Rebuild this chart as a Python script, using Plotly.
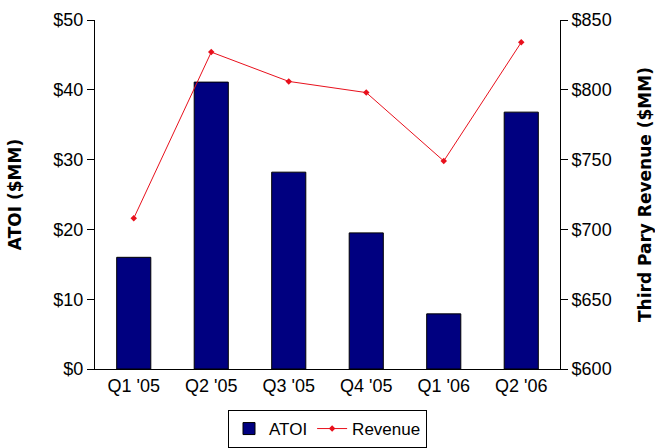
import plotly.graph_objects as go

quarters = ["Q1 '05", "Q2 '05", "Q3 '05", "Q4 '05", "Q1 '06", "Q2 '06"]
atoi = [16.0, 41.1, 28.2, 19.5, 7.9, 36.8]
revenue = [708, 827, 806, 798, 749, 834]

font = "Liberation Sans, Arial, sans-serif"
title_font = "DejaVu Sans, sans-serif"

fig = go.Figure()
fig.add_trace(go.Bar(
    x=quarters, y=atoi, name="ATOI",
    marker=dict(color="#000080", line=dict(color="#000000", width=1)),
    yaxis="y"
))
fig.add_trace(go.Scatter(
    x=quarters, y=revenue, name="Revenue", mode="lines+markers",
    line=dict(color="#e8101c", width=1),
    marker=dict(color="#e8101c", size=5, symbol="diamond"),
    yaxis="y2"
))

fig.update_layout(
    width=655, height=448,
    margin=dict(l=95, r=95, t=20, b=79, autoexpand=False),
    plot_bgcolor="white", paper_bgcolor="white",
    font=dict(family=font, size=18, color="#000000"),
    bargap=0.56,
    showlegend=True,
    legend=dict(
        orientation="h", x=0.5, xanchor="center",
        yref="container", y=0.0, yanchor="bottom",
        bordercolor="#000000", borderwidth=1, font=dict(size=17),
        itemwidth=30, tracegroupgap=0
    ),
    xaxis=dict(
        showline=True, linecolor="#000000", linewidth=1,
        ticks="", showgrid=False,
    ),
    yaxis=dict(
        range=[0, 50], tickvals=[0, 10, 20, 30, 40, 50],
        ticktext=["$0", "$10", "$20", "$30", "$40", "$50"],
        showline=True, linecolor="#000000", linewidth=1,
        ticks="outside", ticklen=7, tickcolor="#000000",
        showgrid=False, zeroline=False,
        title=dict(text="<b>ATOI ($MM)</b>", font=dict(family=title_font, size=17), standoff=27),
    ),
    yaxis2=dict(
        range=[600, 850], tickvals=[600, 650, 700, 750, 800, 850],
        ticktext=["$600", "$650", "$700", "$750", "$800", "$850"],
        overlaying="y", side="right",
        showline=True, linecolor="#000000", linewidth=1,
        ticks="outside", ticklen=7, tickcolor="#000000",
        showgrid=False, zeroline=False,
        title=dict(text="<b>Third Pary Revenue ($MM)</b>", font=dict(family=title_font, size=17), standoff=28),
    ),
)

fig.write_html("out.html")
